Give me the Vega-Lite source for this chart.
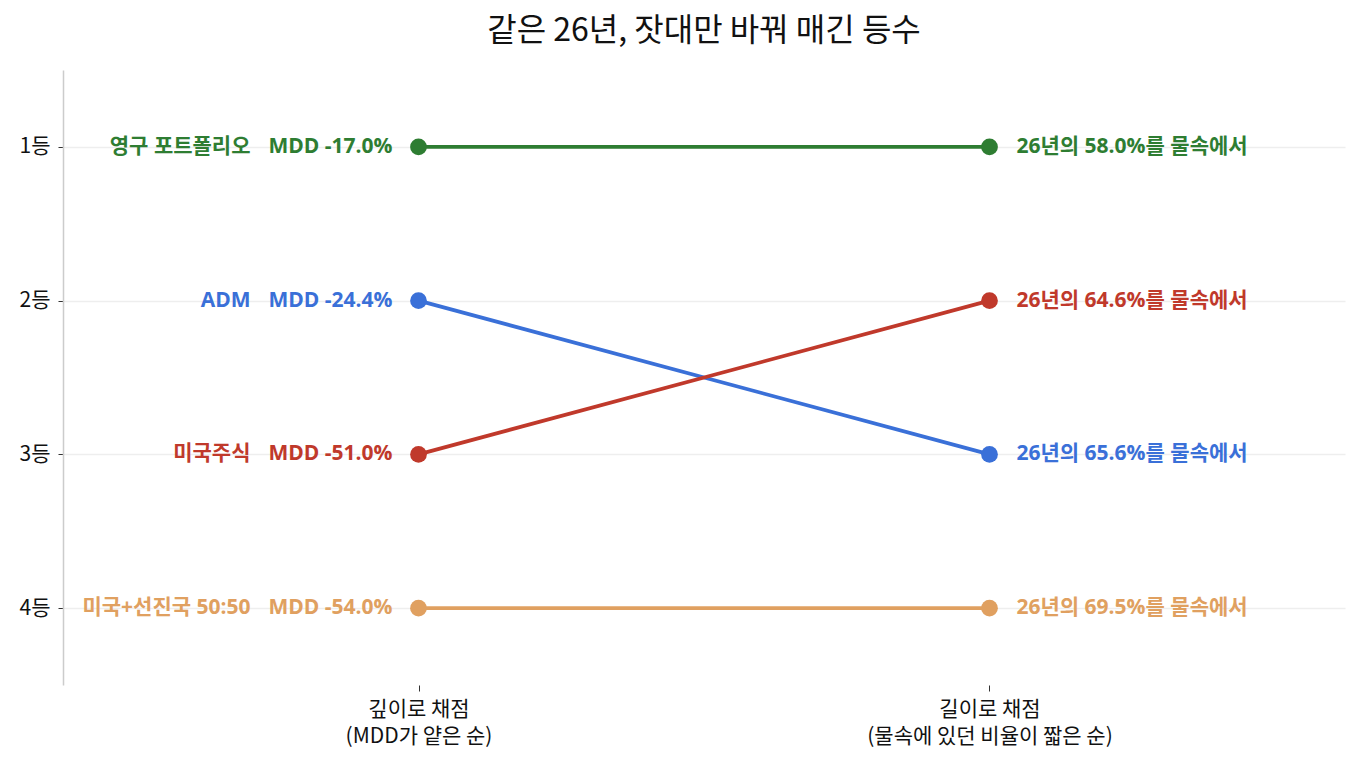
{
  "$schema": "https://vega.github.io/schema/vega-lite/v6.json",
  "width": 1282,
  "height": 615,
  "autosize": {"type": "none"},
  "padding": {"left": 63, "top": 70, "right": 15, "bottom": 80},
  "background": "white",
  "title": {
    "text": "같은 26년, 잣대만 바꿔 매긴 등수",
    "font": "Noto Sans CJK KR",
    "fontSize": 32,
    "fontWeight": "normal",
    "color": "#111111",
    "anchor": "middle",
    "offset": 22
  },
  "config": {
    "view": {"stroke": null},
    "font": "Noto Sans CJK KR"
  },
  "data": {
    "values": [
      {"name": "영구 포트폴리오", "basis": "depth", "rank": 1, "mdd": "MDD -17.0%", "underwater": "26년의 58.0%를 물속에서"},
      {"name": "영구 포트폴리오", "basis": "length", "rank": 1, "mdd": "MDD -17.0%", "underwater": "26년의 58.0%를 물속에서"},
      {"name": "ADM", "basis": "depth", "rank": 2, "mdd": "MDD -24.4%", "underwater": "26년의 65.6%를 물속에서"},
      {"name": "ADM", "basis": "length", "rank": 3, "mdd": "MDD -24.4%", "underwater": "26년의 65.6%를 물속에서"},
      {"name": "미국주식", "basis": "depth", "rank": 3, "mdd": "MDD -51.0%", "underwater": "26년의 64.6%를 물속에서"},
      {"name": "미국주식", "basis": "length", "rank": 2, "mdd": "MDD -51.0%", "underwater": "26년의 64.6%를 물속에서"},
      {"name": "미국+선진국 50:50", "basis": "depth", "rank": 4, "mdd": "MDD -54.0%", "underwater": "26년의 69.5%를 물속에서"},
      {"name": "미국+선진국 50:50", "basis": "length", "rank": 4, "mdd": "MDD -54.0%", "underwater": "26년의 69.5%를 물속에서"}
    ]
  },
  "encoding": {
    "x": {
      "field": "basis",
      "type": "ordinal",
      "sort": ["depth", "length"],
      "scale": {"type": "point", "padding": 0.6226},
      "axis": {
        "title": null,
        "domain": false,
        "grid": false,
        "labelAngle": 0,
        "labelFont": "Noto Sans CJK KR",
        "labelFontSize": 21,
        "labelColor": "#111111",
        "labelPadding": 7,
        "labelLineHeight": 27,
        "labelLimit": 500,
        "labelOverlap": false,
        "tickColor": "#333333",
        "tickSize": 6,
        "labelExpr": "datum.value == 'depth' ? ['깊이로 채점', '(MDD가 얕은 순)'] : ['길이로 채점', '(물속에 있던 비율이 짧은 순)']"
      }
    },
    "y": {
      "field": "rank",
      "type": "quantitative",
      "scale": {"domain": [0.5, 4.5], "reverse": true, "nice": false, "zero": false},
      "axis": {
        "title": null,
        "values": [1, 2, 3, 4],
        "labelExpr": "datum.value + '등'",
        "labelFontSize": 21,
        "labelColor": "#111111",
        "labelPadding": 8,
        "tickColor": "#333333",
        "tickSize": 5,
        "domainColor": "#cccccc",
        "domainWidth": 1.5,
        "grid": true,
        "gridColor": "#eeeeee",
        "gridWidth": 1.5
      }
    },
    "color": {
      "field": "name",
      "type": "nominal",
      "scale": {
        "domain": ["영구 포트폴리오", "ADM", "미국주식", "미국+선진국 50:50"],
        "range": ["#2e7d32", "#3a70d8", "#c0392b", "#e0a060"]
      },
      "legend": null
    }
  },
  "layer": [
    {
      "mark": {"type": "line", "strokeWidth": 3.8},
      "encoding": {"detail": {"field": "name"}}
    },
    {
      "mark": {"type": "circle", "size": 280, "opacity": 1}
    },
    {
      "transform": [{"filter": "datum.basis == 'depth'"}],
      "mark": {"type": "text", "align": "right", "baseline": "middle", "dx": -168, "font": "Open Sans, Noto Sans CJK KR", "fontSize": 21, "fontWeight": "bold"},
      "encoding": {"text": {"field": "name"}}
    },
    {
      "transform": [{"filter": "datum.basis == 'depth'"}],
      "mark": {"type": "text", "align": "right", "baseline": "middle", "dx": -26, "font": "Open Sans, Noto Sans CJK KR", "fontSize": 21, "fontWeight": "bold"},
      "encoding": {"text": {"field": "mdd"}}
    },
    {
      "transform": [{"filter": "datum.basis == 'length'"}],
      "mark": {"type": "text", "align": "left", "baseline": "middle", "dx": 27, "font": "Open Sans, Noto Sans CJK KR", "fontSize": 21, "fontWeight": "bold"},
      "encoding": {"text": {"field": "underwater"}}
    }
  ]
}
